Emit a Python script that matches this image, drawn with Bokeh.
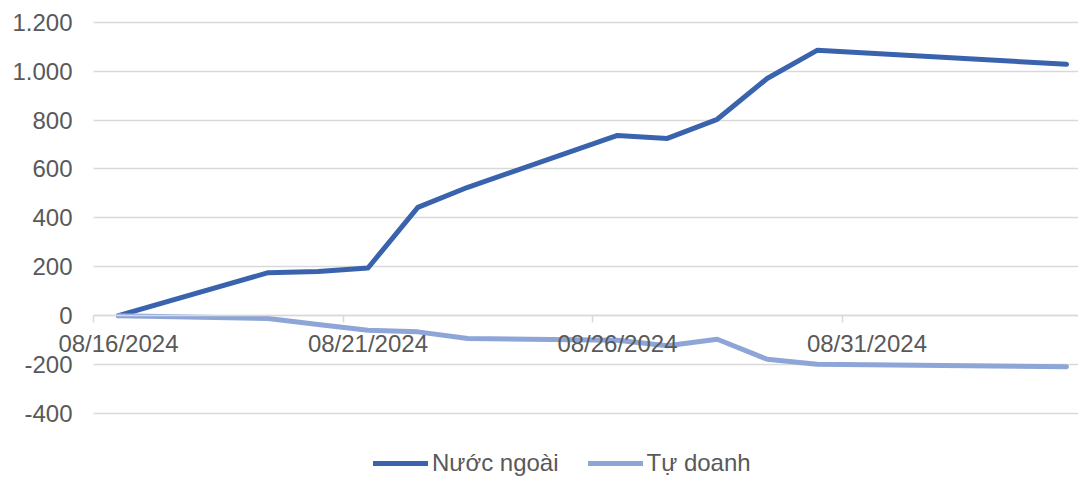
import pandas as pd
from bokeh.plotting import figure
from bokeh.models import (Range1d, FixedTicker, DatetimeTickFormatter,
                          CustomJSTickFormatter, Legend, LegendItem, ColumnDataSource)
from bokeh.embed import file_html
from bokeh.resources import INLINE

# ---- data ----
dates = ["2024-08-16", "2024-08-19", "2024-08-20", "2024-08-21", "2024-08-22",
         "2024-08-23", "2024-08-26", "2024-08-27", "2024-08-28", "2024-08-29",
         "2024-08-30", "2024-09-04"]
nuoc_ngoai = [0, 176, 181, 195, 443, 525, 737, 725, 803, 970, 1085, 1028]
tu_doanh = [0, -11, -36, -59, -66, -93, -100, -123, -96, -178, -198, -209]
series_names = ["Nước ngoài", "Tự doanh"]
tick_dates = ["2024-08-16", "2024-08-21", "2024-08-26", "2024-08-31"]
y_ticks = [-400, -200, 0, 200, 400, 600, 800, 1000, 1200]

# ---- styles / layout ----
FONT = "Liberation Sans"
TXT = "#595959"
GRID = "#D9D9D9"
C1 = "#3A63AE"
C2 = "#8EA5D8"
W, H = 1078, 477
PX_DAY = 49.9          # pixels per day
AREA_LEFT = 93         # left edge of plotting area (px)
PX_UNIT = 0.2446       # pixels per value unit
TOP_GRID = 21.7        # y pixel of top gridline

x = pd.to_datetime(dates)
src = ColumnDataSource(dict(x=x, a=nuoc_ngoai, b=tu_doanh))

area_start = x[0] - pd.Timedelta(hours=12)
x_start = area_start - pd.Timedelta(days=AREA_LEFT / PX_DAY)
x_end = x_start + pd.Timedelta(days=W / PX_DAY)
y_end = y_ticks[-1] + TOP_GRID / PX_UNIT
y_start = y_end - H / PX_UNIT

def ms(t):
    return pd.Timestamp(t).value / 1e6

p = figure(width=W, height=H, output_backend="svg", toolbar_location=None,
           x_axis_type="datetime",
           x_range=Range1d(ms(x_start), ms(x_end)),
           y_range=Range1d(y_start, y_end),
           min_border_left=0, min_border_right=0, min_border_top=0,
           min_border_bottom=0)
p.outline_line_color = None
p.background_fill_color = "white"
p.border_fill_color = "white"

r1 = p.line("x", "a", source=src, line_color=C1, line_width=5, line_cap="round", line_join="round")
r2 = p.line("x", "b", source=src, line_color=C2, line_width=5, line_cap="round", line_join="round")

# x axis drawn at y = 0
tick_ms = [ms(d) for d in tick_dates]
minor_ms = [t - 12 * 3600 * 1000 for t in tick_ms]
xa = p.xaxis[0]
xa.ticker = FixedTicker(ticks=tick_ms, minor_ticks=minor_ms)
fmt = "%m/%d/%Y"
xa.formatter = DatetimeTickFormatter(days=fmt, months=fmt, years=fmt, hours=fmt,
                                     hourmin=fmt, minutes=fmt, minsec=fmt, seconds=fmt,
                                     milliseconds=fmt, microseconds=fmt)
xa.fixed_location = 0
xa.bounds = (ms(area_start), ms(x_end))
xa.axis_line_color = GRID
xa.axis_line_width = 1.5
xa.major_tick_out = 0
xa.major_tick_in = 0
xa.minor_tick_out = 7
xa.minor_tick_in = 0
xa.minor_tick_line_color = GRID
xa.minor_tick_line_width = 1.5
xa.major_label_standoff = 7
xa.major_label_text_font = FONT
xa.major_label_text_font_size = "24px"
xa.major_label_text_color = TXT

# y axis drawn at left edge of plotting area
ya = p.yaxis[0]
ya.ticker = FixedTicker(ticks=y_ticks)
ya.formatter = CustomJSTickFormatter(code=r"return tick.toFixed(0).replace(/\B(?=(\d{3})+(?!\d))/g, '.');")
ya.fixed_location = ms(area_start)
ya.axis_line_color = None
ya.major_tick_line_color = None
ya.minor_tick_line_color = None
ya.major_tick_out = 0
ya.major_label_standoff = 21
ya.major_label_text_font = FONT
ya.major_label_text_font_size = "24px"
ya.major_label_text_color = TXT

p.xgrid.grid_line_color = None
p.ygrid.ticker = FixedTicker(ticks=y_ticks)
p.ygrid.grid_line_color = GRID
p.ygrid.grid_line_width = 1.5
p.ygrid.cross_bounds = (ms(area_start), ms(x_end))

legend = Legend(items=[LegendItem(label=series_names[0], renderers=[r1]),
                       LegendItem(label=series_names[1], renderers=[r2])],
                orientation="horizontal", location=(373, 0),
                glyph_width=55, glyph_height=24, label_height=24, label_standoff=4,
                spacing=29, padding=0, margin=0,
                border_line_color=None, background_fill_alpha=0,
                label_text_font=FONT, label_text_font_size="24px", label_text_color=TXT)
p.add_layout(legend)

open("out.html", "w").write(file_html(p, INLINE))
